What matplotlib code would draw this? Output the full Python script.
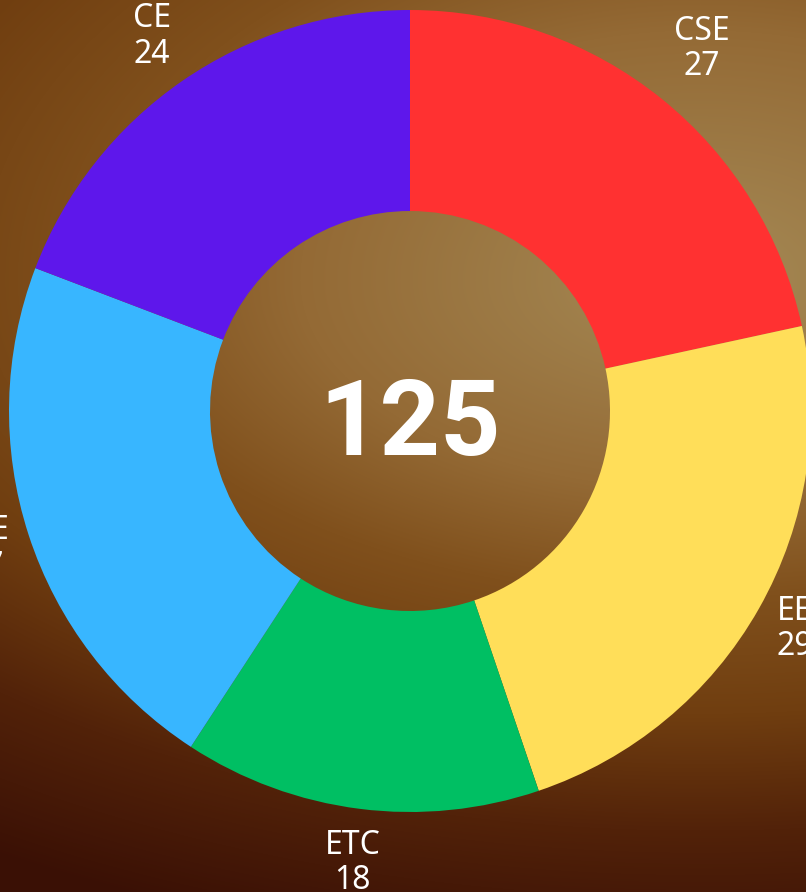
import numpy as np
import matplotlib
matplotlib.use("Agg")
import matplotlib.pyplot as plt
from matplotlib import colors


# ---------------------------------------------------------
#  Data
# ---------------------------------------------------------
branches = ["CSE", "EE", "ETC", "ME", "CE"]
counts = [27, 29, 18, 27, 24]
slice_colors = ["#ff3131", "#ffde59", "#00bf63", "#38b6ff", "#5e17eb"]

W, H = 806, 892
CX, CY = 410, H - 411      # donut centre in pixel units (y up)
R_OUT, R_IN = 401, 200
LABEL_GAP = 20             # gap between ring and label box


# ---------------------------------------------------------
#  Background: warm brown radial gradient
# ---------------------------------------------------------
def make_background():
    yy, xx = np.mgrid[0:H, 0:W]
    dy = yy - 280.0
    dy = np.where(dy > 0, dy * 1.2, dy)
    d = np.sqrt(((xx - 700) / 1.6) ** 2 + dy ** 2)
    stops = [0, 250, 380, 520, 660, 820]
    cols = ["#a58a56", "#946a35", "#80501c", "#703e10", "#522209", "#3a1005"]
    rgb = np.array([colors.to_rgb(c) for c in cols])
    img = np.zeros((H, W, 3))
    for k in range(3):
        img[..., k] = np.interp(d, stops, rgb[:, k])
    return img


fig = plt.figure(figsize=(W / 100, H / 100), dpi=100)
ax = fig.add_axes([0, 0, 1, 1])
ax.imshow(make_background(), extent=(0, W, 0, H), origin="upper", zorder=0)

wedges, _ = ax.pie(
    counts,
    colors=slice_colors,
    startangle=90,
    counterclock=False,
    radius=R_OUT,
    center=(CX, CY),
    wedgeprops=dict(width=R_OUT - R_IN, linewidth=0),
    frame=True,
)
ax.set_xlim(0, W)
ax.set_ylim(0, H)
ax.axis("off")

# centre total
ax.text(CX, H - 455, str(sum(counts)), color="white", fontsize=76,
        fontweight="bold", family="Roboto", ha="center", va="baseline")

# outside labels, box edge sits just outside the ring (chart.js style)
fig.canvas.draw()
renderer = fig.canvas.get_renderer()
for w, name, n in zip(wedges, branches, counts):
    ang = np.deg2rad((w.theta1 + w.theta2) / 2)
    t = ax.text(0, 0, f"{name}\n{n}", color="white", fontsize=23,
                family="Noto Sans", ha="center", va="center",
                multialignment="center", linespacing=1.1)
    bb = t.get_window_extent(renderer)
    c, s = abs(np.cos(ang)), abs(np.sin(ang))
    d = min(bb.width / 2 / c if c > 1e-6 else 1e9,
            bb.height / 2 / s if s > 1e-6 else 1e9)
    r = R_OUT + LABEL_GAP + d
    t.set_position((CX + r * np.cos(ang), CY + r * np.sin(ang)))

fig.savefig("out.png", dpi=100)
plt.close()
